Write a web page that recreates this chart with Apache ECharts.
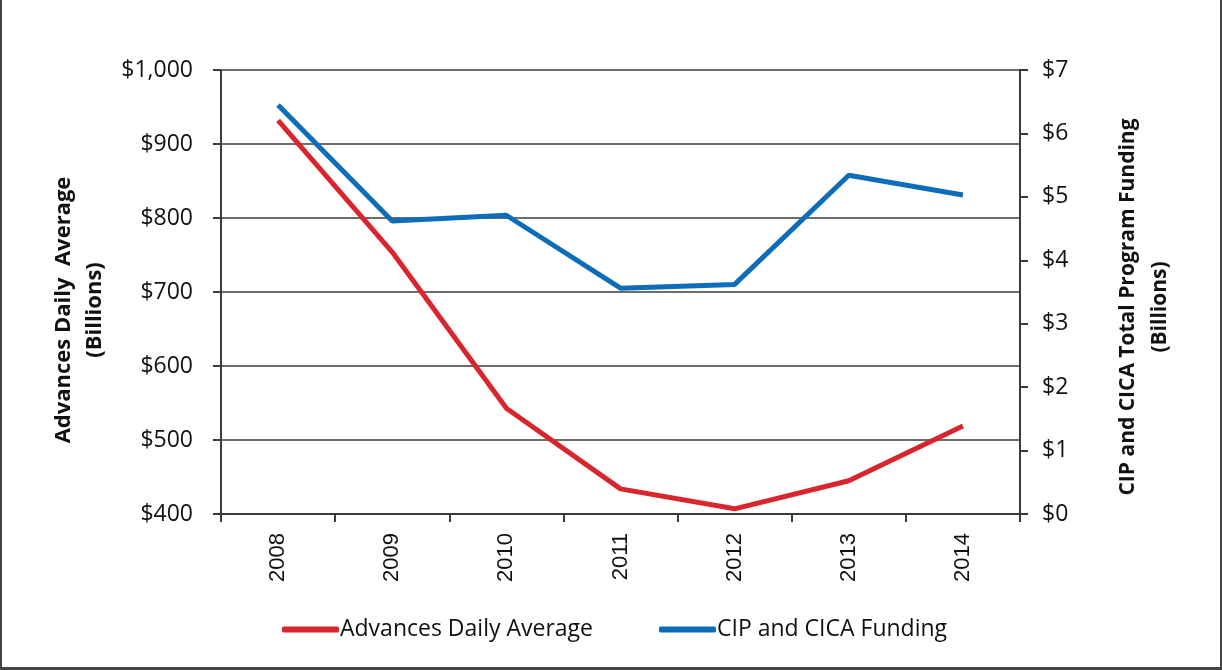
<!DOCTYPE html>
<html>
<head>
<meta charset="utf-8">
<script src="https://cdn.jsdelivr.net/npm/echarts@6/dist/echarts.min.js"></script>
<style>
html,body{margin:0;padding:0;background:#fff;}
#wrap{position:absolute;left:0;top:0;width:1222px;height:670px;box-sizing:border-box;border-left:2px solid #444;border-right:2px solid #444;border-bottom:3px solid #444;}
#chart{position:absolute;left:0;top:0;width:1222px;height:670px;}
</style>
</head>
<body>
<div id="wrap"></div>
<div id="chart"></div>
<script>
var years = ['2008', '2009', '2010', '2011', '2012', '2013', '2014'];
var advances = [932, 754, 543, 434, 407, 445, 519];
var cipFunding = [6.45, 4.62, 4.71, 3.56, 3.62, 5.34, 5.03];

var axisCol = '#3f3a36';
var dom = echarts.init(document.getElementById('chart'));
var option = {
	animation: false,
	grid: {left: 221, right: 202, top: 70, bottom: 156},
	legend: {
		top: 613,
		left: 277,
		itemGap: 66,
		itemWidth: 57,
		itemHeight: 6,
		icon: 'roundRect',
		textStyle: {fontFamily: 'Open Sans', fontSize: 23, color: '#111', padding: [0, 0, 0, -4]},
		data: ['Advances Daily Average', 'CIP and CICA Funding']
	},
	xAxis: {
		type: 'category',
		data: years,
		boundaryGap: true,
		axisLine: {lineStyle: {color: axisCol, width: 2}},
		axisTick: {show: true, length: 8, lineStyle: {color: axisCol, width: 2}},
		axisLabel: {rotate: 90, fontFamily: 'Liberation Sans', fontSize: 22, color: '#111', margin: 19}
	},
	yAxis: [{
		type: 'value',
		min: 400, max: 1000, interval: 100,
		name: 'Advances Daily  Average\n(Billions)',
		nameLocation: 'middle',
		nameGap: 110,
		nameRotate: 90,
		nameTextStyle: {fontFamily: 'Open Sans', fontWeight: 'bold', fontSize: 22, color: '#111', lineHeight: 31, padding: [0, 36, 0, 0]},
		axisLine: {show: true, lineStyle: {color: axisCol, width: 2}},
		axisTick: {show: true, length: 8, lineStyle: {color: axisCol, width: 2}},
		splitLine: {show: true, lineStyle: {color: axisCol, width: 1.5}},
		axisLabel: {
			fontFamily: 'Open Sans', fontSize: 23, color: '#111', margin: 28,
			formatter: function(v){ return '$' + v.toLocaleString('en-US'); }
		}
	}, {
		type: 'value',
		min: 0, max: 7, interval: 1,
		name: 'CIP and CICA Total Program Funding\n(Billions)',
		nameLocation: 'middle',
		nameGap: 92,
		nameRotate: 90,
		nameTextStyle: {fontFamily: 'Open Sans', fontWeight: 'bold', fontSize: 21, color: '#111', lineHeight: 32, padding: [0, 30, 0, 0]},
		axisLine: {show: true, lineStyle: {color: axisCol, width: 2}},
		axisTick: {show: true, length: 8, lineStyle: {color: axisCol, width: 2}},
		splitLine: {show: false},
		axisLabel: {
			fontFamily: 'Open Sans', fontSize: 23, color: '#111', margin: 22,
			formatter: function(v){ return '$' + v; }
		}
	}],
	series: [{
		name: 'Advances Daily Average',
		type: 'line',
		yAxisIndex: 0,
		data: advances,
		symbol: 'none',
		lineStyle: {color: '#d9262e', width: 5},
		itemStyle: {color: '#d9262e'}
	}, {
		name: 'CIP and CICA Funding',
		type: 'line',
		yAxisIndex: 1,
		data: cipFunding,
		symbol: 'none',
		lineStyle: {color: '#0d6db8', width: 5},
		itemStyle: {color: '#0d6db8'}
	}]
};
dom.setOption(option);
</script>
</body>
</html>
